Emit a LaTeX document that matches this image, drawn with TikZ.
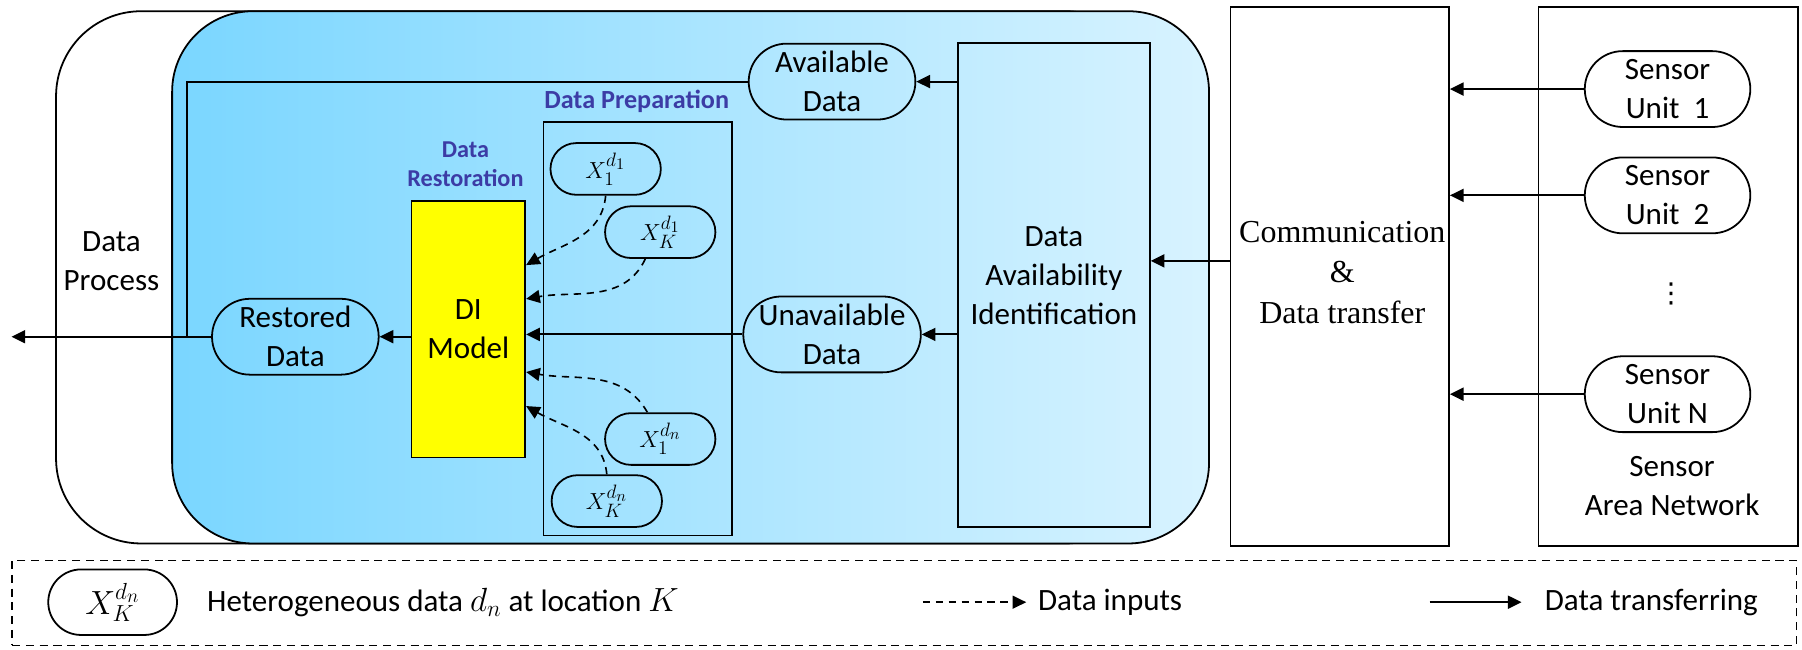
\documentclass[tikz,border=0pt]{standalone}
\usepackage{fontspec}
\setmainfont{Carlito}
\newfontfamily\timesf{Liberation Serif}
\newfontfamily\dejavu{DejaVu Sans}
\usetikzlibrary{shapes.misc,arrows.meta}
\DeclareMathSizes{15.6}{15.6}{12.5}{10}
\DeclareMathSizes{19.6}{19.6}{15.5}{12}
\DeclareMathSizes{19.2}{19.2}{15}{12}
\definecolor{lblue}{RGB}{60,60,165}
\definecolor{bleft}{RGB}{122,214,255}
\definecolor{bmid}{RGB}{158,227,255}
\definecolor{bright}{RGB}{216,243,255}
\definecolor{dyellow}{RGB}{255,255,0}
\tikzset{
  box/.style={draw, line width=1.1pt, inner sep=0pt},
  stad/.style={draw, line width=1.1pt, rounded rectangle, inner sep=0pt, align=center},
  arr/.style={line width=1.3pt, -{Triangle[length=8.5pt,width=8pt]}},
  darr/.style={line width=1pt, dash pattern=on 4.5pt off 3.5pt, -{Triangle[length=8.5pt,width=8pt]}},
  txt/.style={font=\fontsize{19.2}{24.2}\selectfont, align=center},
  ctxt/.style={font=\timesf\fontsize{19.8}{25}\selectfont, align=center},
  lbl/.style={font=\fontsize{15}{18.2}\selectfont\bfseries, text=lblue, align=center},
  mth/.style={font=\fontsize{15.6}{18}\selectfont},
}
\begin{document}
\begin{tikzpicture}[x=0.025cm, y=-0.025cm]
\useasboundingbox (0,0) rectangle (1568,565);

% outer containers
\node[box, rounded corners=1.85cm, minimum width=23.8cm, minimum height=11.575cm, anchor=north west] (procbox) at (48,9) {};
\node[box, rounded corners=1.75cm, left color=bleft, middle color=bmid, right color=bright, minimum width=22.55cm, minimum height=11.575cm, anchor=north west] (bluebox) at (149,9) {};
\node[txt] (proctxt) at (97,227) {Data\\Process};

\node[box, minimum width=4.75cm, minimum height=11.725cm, anchor=north west] (comm) at (1070,5) {};
\node[ctxt] (commtxt) at (1168,237) {Communication\\\&\\Data transfer};
\node[box, minimum width=5.65cm, minimum height=11.725cm, anchor=north west] (san) at (1338,5) {};
\node[txt] (santxt) at (1455,423) {Sensor\\Area Network};

% sensor units
\node[stad, txt, minimum width=3.6cm, minimum height=1.65cm] (su1) at (1451,77.5) {Sensor\\Unit\ \ 1};
\node[stad, txt, minimum width=3.6cm, minimum height=1.65cm] (su2) at (1451,170) {Sensor\\Unit\ \ 2};
\node[stad, txt, minimum width=3.6cm, minimum height=1.65cm] (sun) at (1451,343) {Sensor\\Unit N};
\node[font=\dejavu\fontsize{17}{20}\selectfont, inner sep=0pt] (dots) at (1454,256) {⋮};

% data availability identification
\node[box, minimum width=4.175cm, minimum height=10.525cm] (dai) at (917,248) {};
\node[txt] (daitxt) at (917,240) {Data\\Availability\\Identification};

\node[stad, txt, minimum width=3.625cm, minimum height=1.65cm] (avail) at (724,71) {Available\\Data};
\node[stad, txt, minimum width=3.625cm, minimum height=1.65cm] (unav) at (724,291) {Unavailable\\Data};

% data preparation
\node[box, minimum width=4.1cm, minimum height=9cm] (prep) at (555,286) {};
\node[lbl, font=\fontsize{16.2}{19}\selectfont\bfseries] (preplbl) at (554,88) {Data Preparation};
\node[stad, mth, minimum width=2.4cm, minimum height=1.125cm] (x11) at (527,147) {$X_1^{d_1}$};
\node[stad, mth, minimum width=2.4cm, minimum height=1.125cm] (xk1) at (574.5,202) {$X_K^{d_1}$};
\node[stad, mth, minimum width=2.4cm, minimum height=1.125cm] (x1n) at (574.5,382) {$X_1^{d_n}$};
\node[stad, mth, minimum width=2.4cm, minimum height=1.125cm] (xkn) at (528,436) {$X_K^{d_n}$};

% data restoration
\node[lbl] (restlbl) at (405,143) {Data\\Restoration};
\node[box, txt, fill=dyellow, minimum width=2.475cm, minimum height=5.575cm] (di) at (407.5,286.5) {DI\\Model};
\node[stad, txt, minimum width=3.625cm, minimum height=1.65cm] (rest) at (257,293) {Restored\\Data};

% connectors
\draw[arr] (su1.west) -- (comm.east |- su1.west);
\draw[arr] (su2.west) -- (comm.east |- su2.west);
\draw[arr] (sun.west) -- (comm.east |- sun.west);
\coordinate (commout) at (1070,227);
\draw[arr] (commout) -- (dai.east |- commout);
\draw[arr] (dai.west |- avail.east) -- (avail.east);
\draw[arr] (dai.west |- unav.east) -- (unav.east);
\draw[arr] (unav.west) -- (di.east |- unav.west);
\draw[arr] (di.west |- rest.east) -- (rest.east);
\coordinate (fb) at (163,293);
\coordinate (outtip) at (10,293);
\draw[line width=1.3pt] (avail.west) -| (fb);
\draw[arr] (rest.west) -- (outtip);

\draw[darr] (x11.south) to[out=-95, in=30] ([yshift=1.395cm]di.east);
\draw[darr] ([xshift=-0.325cm]xk1.south) to[out=-115, in=10] ([yshift=0.66cm]di.east);
\draw[darr] ([xshift=-0.28cm]x1n.north) to[out=120, in=-10] ([yshift=-0.93cm]di.east);
\draw[darr] (xkn.north) to[out=95, in=-30] ([yshift=-1.67cm]di.east);

% legend
\node[draw, line width=0.9pt, dash pattern=on 5pt off 3.5pt, minimum width=38.8cm, minimum height=1.85cm, anchor=north west] (legend) at (10,487) {};
\node[stad, font=\fontsize{19.6}{22}\selectfont, minimum width=2.8cm, minimum height=1.425cm] (lgx) at (98,524) {$X_K^{d_n}$};
\node[txt, anchor=west, inner sep=0pt] (lgt) at (180,524) {Heterogeneous data $d_n$ at location $K$};
\coordinate (da1) at (803,524);
\coordinate (da2) at (893,524);
\draw[darr] (da1) -- (da2);
\node[txt, anchor=west, inner sep=0pt] (lgdi) at (903,524) {Data inputs};
\coordinate (sa1) at (1244,524);
\coordinate (sa2) at (1324,524);
\draw[arr] (sa1) -- (sa2);
\node[txt, anchor=west, inner sep=0pt] (lgdt) at (1344,524) {Data transferring};
\end{tikzpicture}
\end{document}
